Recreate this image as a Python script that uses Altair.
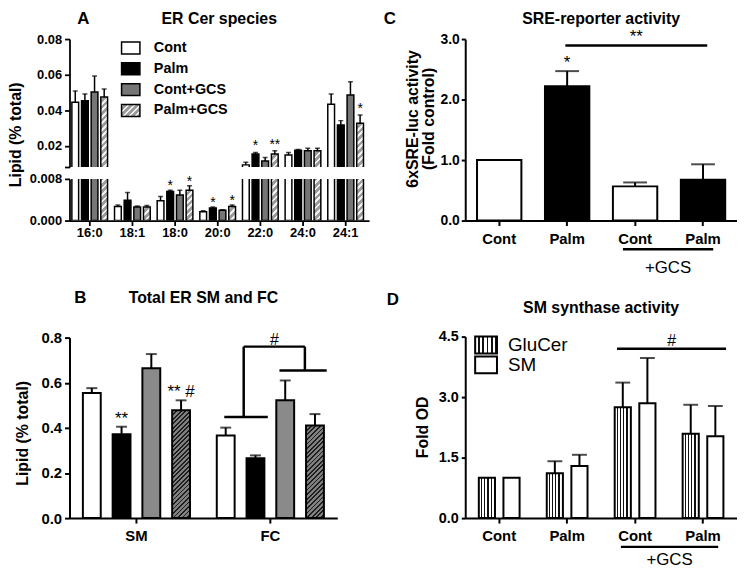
import altair as alt
import pandas as pd

FONT = "Liberation Sans"

# ---------------- Panel A: ER Cer species ----------------
A_SPECIES = ["16:0", "18:1", "18:0", "20:0", "22:0", "24:0", "24:1"]
A_GROUPS = ["Cont", "Palm", "Cont+GCS", "Palm+GCS"]
A_CONT = [0.0444, 0.0027, 0.0038, 0.0017, 0.0092, 0.0148, 0.0433]
A_CONT_ERR = [0.0508, 0.0030, 0.0046, 0.0019, 0.0107, 0.0162, 0.0491]
A_PALM = [0.0453, 0.0039, 0.0056, 0.0024, 0.0153, 0.0174, 0.0317]
A_PALM_ERR = [0.0491, 0.0054, 0.0058, 0.0026, 0.0162, 0.0179, 0.0341]
A_CGCS = [0.0502, 0.0026, 0.0049, 0.0020, 0.0114, 0.0171, 0.0485]
A_CGCS_ERR = [0.0592, 0.0028, 0.0058, 0.0021, 0.0134, 0.0186, 0.0560]
A_PGCS = [0.0474, 0.0026, 0.0058, 0.0027, 0.0153, 0.0171, 0.0326]
A_PGCS_ERR = [0.0519, 0.0029, 0.0067, 0.0030, 0.0171, 0.0186, 0.0373]
A_STAR_SP = ["18:0", "18:0", "20:0", "20:0", "22:0", "22:0", "24:1"]
A_STAR_GRP = ["Palm", "Palm+GCS", "Palm", "Palm+GCS", "Palm", "Palm+GCS", "Palm+GCS"]
A_STAR_TXT = ["*", "*", "*", "*", "*", "**", "*"]

# ---------------- Panel B: Total ER SM and FC ----------------
B_CATS = ["SM", "FC"]
B_CONT = [0.554, 0.366]
B_CONT_ERR = [0.576, 0.401]
B_PALM = [0.372, 0.265]
B_PALM_ERR = [0.405, 0.278]
B_CGCS = [0.664, 0.522]
B_CGCS_ERR = [0.727, 0.610]
B_PGCS = [0.478, 0.410]
B_PGCS_ERR = [0.522, 0.461]
B_STAR_CAT = ["SM", "SM"]
B_STAR_GRP = ["Palm", "Palm+GCS"]
B_STAR_TXT = ["**", "** #"]
# bracket segments, x in category units (SM centre = 0.5, FC centre = 1.5)
B_BR_X = [1.156, 1.301, 1.301, 1.758, 1.568]
B_BR_X2 = [1.481, 1.301, 1.758, 1.758, 1.921]
B_BR_Y = [0.448, 0.448, 0.760, 0.760, 0.654]
B_BR_Y2 = [0.448, 0.760, 0.760, 0.654, 0.654]
B_HASH_X = [1.53]
B_HASH_Y = [0.769]

# ---------------- Panel C: SRE-reporter activity ----------------
C_CATS = ["Cont", "Palm", "Cont+GCS", "Palm+GCS"]
C_VAL = [1.0, 2.22, 0.565, 0.675]
C_ERR = [None, 2.47, 0.63, 0.93]
C_SIG_X = [1.474]
C_SIG_X2 = [3.562]
C_SIG_Y = [2.895]
C_GCS_X = [2.321]
C_GCS_X2 = [3.650]

# ---------------- Panel D: SM synthase activity ----------------
D_CATS = ["Cont", "Palm", "Cont+GCS", "Palm+GCS"]
D_SERIES = ["GluCer", "SM"]
D_GLUCER = [1.0, 1.11, 2.75, 2.09]
D_GLUCER_ERR = [None, 1.41, 3.36, 2.81]
D_SM = [1.0, 1.29, 2.85, 2.03]
D_SM_ERR = [None, 1.57, 3.97, 2.78]
D_SIG_X = [2.234]
D_SIG_X2 = [3.839]
D_SIG_Y = [4.2]
D_GCS_X = [2.292]
D_GCS_X2 = [3.723]

ONE = pd.DataFrame({"k": [0]})


def grad_diag(w, h, period, frac, c_line, c_bg):
    """'/' hatching as a bounding-box linear gradient (t = (x+y)/(w+h))."""
    n = max(1, int(round((w + h) / period)))
    k = (w + h) / (w * w + h * h)
    stops = []
    for i in range(n):
        a, b, e = round(i / n, 5), round((i + frac) / n, 5), round((i + 1) / n, 5)
        stops += [{"offset": a, "color": c_line}, {"offset": b, "color": c_line},
                  {"offset": b, "color": c_bg}, {"offset": e, "color": c_bg}]
    return {"gradient": "linear", "x1": 0, "y1": 0,
            "x2": round(w * k, 5), "y2": round(h * k, 5), "stops": stops}


def grad_vert(n, frac, c_line, c_bg):
    stops = []
    for i in range(n):
        a, b, e = round(i / n, 5), round((i + frac) / n, 5), round((i + 1) / n, 5)
        stops += [{"offset": a, "color": c_bg}, {"offset": b, "color": c_bg},
                  {"offset": b, "color": c_line}, {"offset": e, "color": c_line}]
    return {"gradient": "linear", "x1": 0, "y1": 0, "x2": 1, "y2": 0, "stops": stops}


def fill_chain(hatch_preds, group_field, colors):
    chain = None
    for pred, g in hatch_preds:
        chain = alt.when(pred).then(alt.value(g)) if chain is None else chain.when(pred).then(alt.value(g))
    items = list(colors.items())
    for grp, col in items[:-1]:
        pred = alt.datum[group_field] == grp
        chain = alt.when(pred).then(alt.value(col)) if chain is None else chain.when(pred).then(alt.value(col))
    return chain.otherwise(alt.value(items[-1][1]))


def txt(s, x, y, size, weight="bold", align="center"):
    # baseline "top": y is the top of the text box
    return alt.Chart(ONE).mark_text(
        text=s, font=FONT, fontSize=size, fontWeight=weight, align=align,
        baseline="top", color="black").encode(x=alt.value(x), y=alt.value(y))


def band_width(n, width, pi, po):
    step = width / (n - pi + 2 * po)
    return step * (1 - pi)


LETTER_FS, TITLE_FS = 17, 16
TOP_TXT = -28

# ======================= Panel A =======================
A_W, A_UP_H, A_LO_H = 302, 129, 42
A_UP_DOM, A_LO_DOM = [0.008, 0.08], [0.0, 0.008]
A_PI, A_PO, A_PI2 = 0.163, 0.093, 0.3
a_bw = band_width(7, A_W, A_PI, A_PO)
a_w = band_width(4, a_bw, A_PI2, 0)

rows = []
for g, means, errs in zip(A_GROUPS, [A_CONT, A_PALM, A_CGCS, A_PGCS],
                          [A_CONT_ERR, A_PALM_ERR, A_CGCS_ERR, A_PGCS_ERR]):
    for sp, m, e in zip(A_SPECIES, means, errs):
        rows.append({"sp": sp, "grp": g, "val": m, "err": e})
df_a = pd.DataFrame(rows)
df_a_star = pd.DataFrame({"sp": A_STAR_SP, "grp": A_STAR_GRP, "star": A_STAR_TXT}).merge(df_a, on=["sp", "grp"])

A_COLORS = {"Palm": "black", "Cont+GCS": "#767676", "Palm+GCS": "#a6a6a6", "Cont": "white"}
A_HATCH = dict(period=6.5, frac=0.42, c_line="#f2f2f2", c_bg="#9c9c9c")


def a_fill(px_per_unit, lo):
    preds = []
    for sp, v in zip(A_SPECIES, A_PGCS):
        if v <= lo:
            continue
        g = grad_diag(a_w, v * px_per_unit, **A_HATCH)
        preds.append(((alt.datum.sp == sp) & (alt.datum.grp == "Palm+GCS"), g))
    return fill_chain(preds, "grp", A_COLORS)


a_x_scale = alt.Scale(domain=A_SPECIES, paddingInner=A_PI, paddingOuter=A_PO, align=0.3)
a_xo = alt.XOffset("grp:N", sort=A_GROUPS,
                   scale=alt.Scale(domain=A_GROUPS, paddingInner=A_PI2, paddingOuter=0))


def a_segment(upper):
    dom = A_UP_DOM if upper else A_LO_DOM
    h = A_UP_H if upper else A_LO_H
    pxu = h / (dom[1] - dom[0])
    if upper:
        axis = alt.Axis(values=[0.008, 0.02, 0.04, 0.06, 0.08],
                        labelExpr="datum.value < 0.01 ? '' : format(datum.value, '.2f')",
                        title="Lipid (% total)", titleFontSize=16, titleX=-46, titleY=96,
                        titleAngle=270, titleBaseline="bottom", titleAlign="center",
                        labelFontSize=13, tickSize=5, labelPadding=3, domainWidth=1.8, tickWidth=1.8)
        xax = None
    else:
        axis = alt.Axis(values=[0.0, 0.008], format=".3f", title=None, labelFontSize=13,
                        tickSize=5, labelPadding=3, domainWidth=1.8, tickWidth=1.8)
        xax = alt.Axis(title=None, labelAngle=0, labelFontSize=13, labelPadding=1, tickSize=5,
                       domainWidth=1.8, tickWidth=1.8, labelOverlap=False)
    ysc = alt.Scale(domain=dom, nice=False, zero=False)
    x = alt.X("sp:N", sort=A_SPECIES, scale=a_x_scale, axis=xax)
    yv = alt.Y("val:Q", scale=ysc, axis=axis)
    ye = alt.Y("err:Q", scale=ysc, axis=axis)
    base = alt.Chart(df_a)
    bars = base.mark_bar(clip=True, stroke="black", strokeWidth=1.5).encode(
        x=x, xOffset=a_xo, y=yv, y2=alt.datum(0), fill=a_fill(pxu, dom[0]))
    rules = base.mark_rule(clip=True, color="black", strokeWidth=1.5).encode(
        x=x, xOffset=a_xo, y=yv, y2="err:Q")
    caps = base.mark_tick(clip=True, color="black", orient="horizontal", size=5, thickness=1.5).encode(
        x=x, xOffset=a_xo, y=ye)
    sdf = df_a_star[df_a_star["err"] > 0.008] if upper else df_a_star[df_a_star["err"] < 0.008]
    stars = alt.Chart(sdf).mark_text(font=FONT, fontSize=14, color="black", baseline="alphabetic",
                                     dy=-2 if upper else 0).encode(
        x=x, xOffset=a_xo, y=ye, text="star:N")
    layers = [bars, rules, caps, stars]
    if upper:
        layers += [txt("A", 14, TOP_TXT, LETTER_FS), txt("ER Cer species", A_W / 2, TOP_TXT, TITLE_FS)]
        data_layer = alt.layer(*layers)
        leg_y = alt.Y("grp:N", sort=A_GROUPS, axis=None,
                      scale=alt.Scale(domain=A_GROUPS, range=[3, 78], paddingInner=0.4286, paddingOuter=0))
        leg = alt.Chart(pd.DataFrame({"grp": A_GROUPS}))
        g_leg = grad_diag(18.5, 12, **A_HATCH)
        leg_rect = leg.mark_rect(stroke="black", strokeWidth=1.5).encode(
            x=alt.value(52.5), x2=alt.value(71), y=leg_y,
            fill=fill_chain([(alt.datum.grp == "Palm+GCS", g_leg)], "grp", A_COLORS))
        leg_text = leg.mark_text(font=FONT, fontSize=14.5, fontWeight="bold", align="left",
                                 baseline="middle", color="black").encode(
            x=alt.value(85), y=leg_y, text="grp:N")
        ch = alt.layer(data_layer, alt.layer(leg_rect, leg_text)).resolve_scale(y="independent")
    else:
        ch = alt.layer(*layers)
    return ch.properties(width=A_W, height=h)


a_up = a_segment(True)
a_lo = a_segment(False)

# ======================= Panel B =======================
B_W, B_H, B_TOP = 270, 288, 106
B_PI, B_PO, B_PI2 = 0.2, 0.1, 0.4
b_bw = band_width(2, B_W, B_PI, B_PO)
b_w = band_width(4, b_bw, B_PI2, 0)
b_pxu = (B_H - B_TOP) / 0.8
rows = []
for g, means, errs in zip(A_GROUPS, [B_CONT, B_PALM, B_CGCS, B_PGCS],
                          [B_CONT_ERR, B_PALM_ERR, B_CGCS_ERR, B_PGCS_ERR]):
    for c, m, e in zip(B_CATS, means, errs):
        rows.append({"cat": c, "grp": g, "val": m, "err": e})
df_b = pd.DataFrame(rows)
df_b_star = pd.DataFrame({"cat": B_STAR_CAT, "grp": B_STAR_GRP, "star": B_STAR_TXT}).merge(df_b, on=["cat", "grp"])

B_COLORS = {"Palm": "black", "Cont+GCS": "#8a8a8a", "Palm+GCS": "#7a7a7a", "Cont": "white"}
B_HATCH = dict(period=4.6, frac=0.4, c_line="#1e1e1e", c_bg="#808080")
b_preds = []
for c, v in zip(B_CATS, B_PGCS):
    b_preds.append(((alt.datum.cat == c) & (alt.datum.grp == "Palm+GCS"),
                    grad_diag(b_w, v * b_pxu, **B_HATCH)))
b_fill = fill_chain(b_preds, "grp", B_COLORS)

b_ysc = alt.Scale(domain=[0, 0.8], range=[B_H, B_TOP], nice=False)
b_axis = alt.Axis(values=[0, 0.2, 0.4, 0.6, 0.8], format=".1f", title="Lipid (% total)",
                  titleFontSize=16, titleX=-39, titleY=202, titleAngle=270, titleBaseline="bottom",
                  titleAlign="center", labelFontSize=15, tickSize=5, labelPadding=3,
                  domainWidth=2, tickWidth=2)
b_x = alt.X("cat:N", sort=B_CATS, scale=alt.Scale(domain=B_CATS, paddingInner=B_PI, paddingOuter=B_PO),
            axis=alt.Axis(title=None, labelAngle=0, labelFontSize=15, labelPadding=6, tickSize=5,
                          domainWidth=2, tickWidth=2))
b_xo = alt.XOffset("grp:N", sort=A_GROUPS,
                   scale=alt.Scale(domain=A_GROUPS, paddingInner=B_PI2, paddingOuter=0))
base = alt.Chart(df_b)
b_bars = base.mark_bar(stroke="black", strokeWidth=2).encode(
    x=b_x, xOffset=b_xo, y=alt.Y("val:Q", scale=b_ysc, axis=b_axis), y2=alt.datum(0), fill=b_fill)
b_rules = base.mark_rule(color="black", strokeWidth=2).encode(
    x=b_x, xOffset=b_xo, y=alt.Y("val:Q", scale=b_ysc, axis=b_axis), y2="err:Q")
b_caps = base.mark_tick(color="black", orient="horizontal", size=11, thickness=2).encode(
    x=b_x, xOffset=b_xo, y=alt.Y("err:Q", scale=b_ysc, axis=b_axis))
b_stars = alt.Chart(df_b_star).mark_text(font=FONT, fontSize=17, color="black", baseline="alphabetic", dy=-3).encode(
    x=b_x, xOffset=b_xo, y=alt.Y("err:Q", scale=b_ysc, axis=b_axis), text="star:N")
b_main = alt.layer(b_bars, b_rules, b_caps, b_stars,
                   txt("B", 11, 58, LETTER_FS), txt("Total ER SM and FC", B_W / 2, 58, TITLE_FS))
df_br = pd.DataFrame({"x": B_BR_X, "x2": B_BR_X2, "y": B_BR_Y, "y2": B_BR_Y2})
bq = alt.X("x:Q", scale=alt.Scale(domain=[0, 2], nice=False), axis=None)
b_br = alt.Chart(df_br).mark_rule(color="black", strokeWidth=2.5).encode(
    x=bq, x2="x2:Q", y=alt.Y("y:Q", scale=b_ysc, axis=b_axis), y2="y2:Q")
b_hash = alt.Chart(pd.DataFrame({"x": B_HASH_X, "y": B_HASH_Y})).mark_text(
    text="#", font=FONT, fontSize=16, color="black", baseline="alphabetic").encode(
    x=bq, y=alt.Y("y:Q", scale=b_ysc, axis=b_axis))
b_chart = alt.layer(b_main, alt.layer(b_br, b_hash)).resolve_scale(
    x="independent", xOffset="independent").properties(width=B_W, height=B_H)

# ======================= Panel C =======================
C_W, C_H = 274, 183
C_PI, C_PO = 0.347, 0.1735
df_c = pd.DataFrame({"cat": C_CATS, "val": C_VAL, "err": C_ERR})
df_c_err = df_c.dropna()
c_ysc = alt.Scale(domain=[0, 3], nice=False)
c_axis = alt.Axis(values=[0, 1, 2, 3], format=".1f", title=["6xSRE-luc activity", "(Fold control)"],
                  titleFontSize=16, titleLineHeight=16, titleX=-45, titleY=80, titleAngle=270,
                  titleBaseline="bottom", titleAlign="center", labelFontSize=14, tickSize=4,
                  labelPadding=2, domainWidth=2, tickWidth=2)
cd_xaxis = alt.Axis(title=None, labelAngle=0, labelFontSize=15, labelPadding=6, tickSize=5,
                    domainWidth=2, tickWidth=2, labelExpr="split(datum.label, '+')[0]")
c_x = alt.X("cat:N", sort=C_CATS, scale=alt.Scale(domain=C_CATS, paddingInner=C_PI, paddingOuter=C_PO), axis=cd_xaxis)
c_bars = alt.Chart(df_c).mark_bar(stroke="black", strokeWidth=2).encode(
    x=c_x, y=alt.Y("val:Q", scale=c_ysc, axis=c_axis),
    fill=alt.Fill("cat:N", scale=alt.Scale(domain=C_CATS, range=["white", "black", "white", "black"]), legend=None))
c_rules = alt.Chart(df_c_err).mark_rule(color="black", strokeWidth=2).encode(
    x=c_x, y=alt.Y("val:Q", scale=c_ysc, axis=c_axis), y2="err:Q")
c_caps = alt.Chart(df_c_err).mark_tick(color="black", orient="horizontal", size=24, thickness=2).encode(
    x=c_x, y=alt.Y("err:Q", scale=c_ysc, axis=c_axis))
c_star = alt.Chart(df_c_err[df_c_err["cat"] == "Palm"]).mark_text(
    text="*", font=FONT, fontSize=17, color="black", baseline="alphabetic", dy=-3).encode(
    x=c_x, y=alt.Y("err:Q", scale=c_ysc, axis=c_axis))
c_main = alt.layer(c_bars, c_rules, c_caps, c_star,
                   txt("C", -76, TOP_TXT, LETTER_FS), txt("SRE-reporter activity", C_W / 2, TOP_TXT, TITLE_FS))
cq = alt.X("x:Q", scale=alt.Scale(domain=[0, 4], nice=False), axis=None)
c_sig = alt.Chart(pd.DataFrame({"x": C_SIG_X, "x2": C_SIG_X2, "y": C_SIG_Y})).mark_rule(
    color="black", strokeWidth=2.5).encode(x=cq, x2="x2:Q", y=alt.Y("y:Q", scale=c_ysc, axis=c_axis))
c_sig_t = alt.Chart(pd.DataFrame({"x": [(C_SIG_X[0] + C_SIG_X2[0]) / 2], "y": C_SIG_Y})).mark_text(
    text="**", font=FONT, fontSize=17, color="black", baseline="alphabetic", dy=-3).encode(
    x=cq, y=alt.Y("y:Q", scale=c_ysc, axis=c_axis))
c_gcs = alt.Chart(pd.DataFrame({"x": C_GCS_X, "x2": C_GCS_X2})).mark_rule(
    color="black", strokeWidth=2.5).encode(x=cq, x2="x2:Q", y=alt.value(C_H + 29))
c_gcs_t = alt.Chart(pd.DataFrame({"x": [(C_GCS_X[0] + C_GCS_X2[0]) / 2]})).mark_text(
    text="+GCS", font=FONT, fontSize=17, color="black", baseline="alphabetic").encode(
    x=cq, y=alt.value(C_H + 53))
c_chart = alt.layer(c_main, alt.layer(c_sig, c_sig_t, c_gcs, c_gcs_t)).resolve_scale(
    x="independent").properties(width=C_W, height=C_H)

# ======================= Panel D =======================
D_W, D_H, D_TOP = 274, 288, 105
D_PI, D_PO, D_PI2 = 0.4, 0.2, 0.344
rows = []
for s, vals, errs in zip(D_SERIES, [D_GLUCER, D_SM], [D_GLUCER_ERR, D_SM_ERR]):
    for c, v, e in zip(D_CATS, vals, errs):
        rows.append({"cat": c, "ser": s, "val": v, "err": e})
df_d = pd.DataFrame(rows)
df_d_err = df_d.dropna()
d_stripes = grad_vert(5, 0.62, "#111111", "white")
d_ysc = alt.Scale(domain=[0, 4.5], range=[D_H, D_TOP], nice=False)
d_axis = alt.Axis(values=[0, 1.5, 3, 4.5], format=".1f", title="Fold OD", titleFontSize=16,
                  titleX=-35, titleY=196, titleAngle=270, titleBaseline="bottom", titleAlign="center",
                  labelFontSize=14.5, tickSize=4, labelPadding=3, domainWidth=2, tickWidth=2)
d_x = alt.X("cat:N", sort=D_CATS, scale=alt.Scale(domain=D_CATS, paddingInner=D_PI, paddingOuter=D_PO), axis=cd_xaxis)
d_xo = alt.XOffset("ser:N", sort=D_SERIES,
                   scale=alt.Scale(domain=D_SERIES, paddingInner=D_PI2, paddingOuter=0))
d_fill = alt.when(alt.datum.ser == "GluCer").then(alt.value(d_stripes)).otherwise(alt.value("white"))
d_bars = alt.Chart(df_d).mark_bar(stroke="black", strokeWidth=2).encode(
    x=d_x, xOffset=d_xo, y=alt.Y("val:Q", scale=d_ysc, axis=d_axis), y2=alt.datum(0), fill=d_fill)
d_rules = alt.Chart(df_d_err).mark_rule(color="black", strokeWidth=2).encode(
    x=d_x, xOffset=d_xo, y=alt.Y("val:Q", scale=d_ysc, axis=d_axis), y2="err:Q")
d_caps = alt.Chart(df_d_err).mark_tick(color="black", orient="horizontal", size=15, thickness=2).encode(
    x=d_x, xOffset=d_xo, y=alt.Y("err:Q", scale=d_ysc, axis=d_axis))
d_main = alt.layer(d_bars, d_rules, d_caps,
                   txt("D", -73, 60, LETTER_FS), txt("SM synthase activity", D_W / 2, 68, TITLE_FS))
dq = alt.X("x:Q", scale=alt.Scale(domain=[0, 4], nice=False), axis=None)
d_sig = alt.Chart(pd.DataFrame({"x": D_SIG_X, "x2": D_SIG_X2, "y": D_SIG_Y})).mark_rule(
    color="black", strokeWidth=2.5).encode(x=dq, x2="x2:Q", y=alt.Y("y:Q", scale=d_ysc, axis=d_axis))
d_sig_t = alt.Chart(pd.DataFrame({"x": [(D_SIG_X[0] + D_SIG_X2[0]) / 2], "y": D_SIG_Y})).mark_text(
    text="#", font=FONT, fontSize=16, color="black", baseline="alphabetic", dy=-3).encode(
    x=dq, y=alt.Y("y:Q", scale=d_ysc, axis=d_axis))
d_gcs = alt.Chart(pd.DataFrame({"x": D_GCS_X, "x2": D_GCS_X2})).mark_rule(
    color="black", strokeWidth=2.5).encode(x=dq, x2="x2:Q", y=alt.value(D_H + 29))
d_gcs_t = alt.Chart(pd.DataFrame({"x": [(D_GCS_X[0] + D_GCS_X2[0]) / 2]})).mark_text(
    text="+GCS", font=FONT, fontSize=17, color="black", baseline="alphabetic").encode(
    x=dq, y=alt.value(D_H + 47))
d_leg_y = alt.Y("ser:N", sort=D_SERIES, axis=None,
                scale=alt.Scale(domain=D_SERIES, range=[D_TOP, D_TOP + 37], paddingInner=0.15, paddingOuter=0))
d_leg = alt.Chart(pd.DataFrame({"ser": D_SERIES}))
d_leg_rect = d_leg.mark_rect(stroke="black", strokeWidth=2).encode(
    x=alt.value(10), x2=alt.value(32), y=d_leg_y, fill=d_fill)
d_leg_text = d_leg.mark_text(font=FONT, fontSize=19, align="left", baseline="middle", color="black").encode(
    x=alt.value(43), y=d_leg_y, text="ser:N")
d_chart = alt.layer(
    alt.layer(d_main, alt.layer(d_sig, d_sig_t, d_gcs, d_gcs_t)).resolve_scale(
        x="independent", xOffset="independent"),
    alt.layer(d_leg_rect, d_leg_text)
).resolve_scale(y="independent").properties(width=D_W, height=D_H)

# ======================= layout =======================
left = alt.vconcat(a_up, a_lo, b_chart, spacing=12, bounds="flush")
right = alt.vconcat(c_chart, d_chart, spacing=12, bounds="flush")
chart = alt.hconcat(left, right, spacing=14).properties(padding=0).configure_view(
    strokeWidth=0).configure_axis(
    domainColor="black", tickColor="black", labelColor="black", titleColor="black",
    labelFont=FONT, titleFont=FONT, labelFontWeight="bold", titleFontWeight="bold", grid=False
).configure_text(font=FONT)

chart.save("out.html", embed_options={"renderer": "svg", "actions": False})
